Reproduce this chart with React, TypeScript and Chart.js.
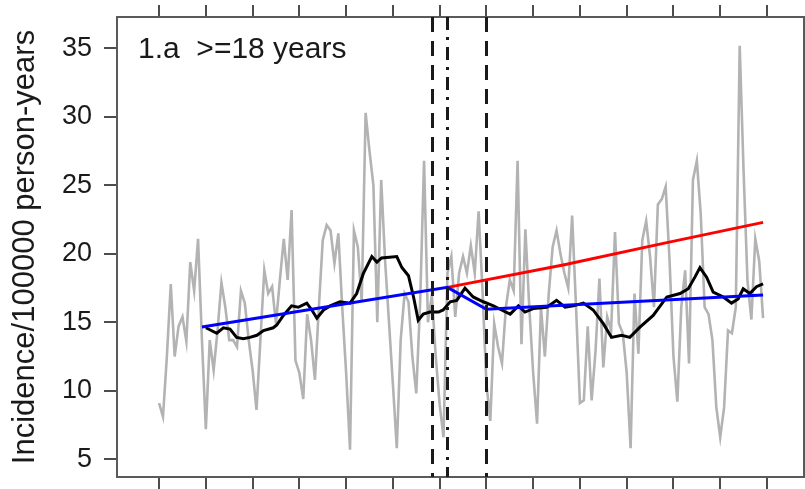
import React, { useEffect, useRef } from "react";
import { Chart, registerables } from "chart.js";

Chart.register(...registerables);

// Monthly incidence (gray), month index 0..155
const grayValues: number[] = [
  9.1, 8.1, 12.5, 17.8, 12.5, 14.7, 15.4, 13.6, 19.4, 17.3, 21.1, 13.7,
  7.2, 13.7, 11.5, 14.4, 17.9, 16.1, 13.7, 13.7, 13.2, 17.3, 16.4, 13.7,
  11.5, 8.6, 13.7, 18.8, 17.1, 17.6, 14.9, 18.1, 21.1, 18.1, 23.2, 12.2,
  11.3, 9.4, 15.6, 13.7, 10.8, 16.1, 21.0, 22.1, 21.7, 19.3, 21.5, 16.1,
  11.3, 5.7, 21.7, 20.5, 16.5, 30.3, 27.5, 25.0, 15.0, 25.4, 19.5, 15.0,
  10.5, 5.8, 13.7, 17.1, 16.5, 12.5, 9.8, 16.5, 26.8, 15.0, 17.0, 12.5,
  9.0, 6.6, 18.6, 19.8, 15.4, 18.6, 19.8, 18.6, 20.6, 18.6, 23.1, 17.3,
  10.5, 7.8, 14.9, 13.2, 12.0, 16.1, 18.1, 17.3, 26.8, 13.4, 21.8, 16.1,
  11.3, 7.6, 16.1, 12.5, 17.1, 20.5, 21.7, 20.0, 18.6, 17.5, 22.8, 16.1,
  9.1, 9.3, 14.7, 9.3, 12.9, 18.2, 11.7, 15.4, 14.4, 21.6, 14.9, 14.2,
  11.3, 5.8, 17.1, 12.7, 21.0, 22.4, 19.8, 16.1, 23.6, 24.0, 24.9, 19.5,
  12.5, 9.2, 16.1, 18.8, 12.0, 25.4, 26.8, 22.9, 16.1, 15.6, 13.7, 8.8,
  6.6, 8.8, 14.4, 14.2, 16.1, 35.2, 26.0, 18.0, 15.2, 21.1, 19.5, 15.3,
];

// Moving average (black)
const blackMonths: number[] = [
  12, 14.8, 16.5, 18.2, 19.9, 21.6, 23.3, 25.1, 26.8, 29.3, 30.2, 31.9, 34.0,
  35.7, 37.9, 39.2, 40.5, 42.2, 43.9, 46.4, 49.0, 50.7, 52.4, 54.6, 55.9, 57.1,
  61.0, 62.3, 64.0, 65.3, 66.5, 67.8, 69.5, 71.7, 72.9, 73.8, 74.7, 76.4, 78.5,
  80.6, 83.2, 85.8, 87.9, 90.1, 92.2, 93.9, 96.0, 99.5, 102.0, 104.2, 106.3,
  108.9, 111.4, 114.0, 116.1, 118.7, 120.8, 123.4, 126.8, 130.3, 133.7, 135.8,
  137.5, 138.8, 140.5, 142.2, 144.8, 146.9, 148.6, 149.9, 151.6, 153.3, 155.0,
];
const blackValues: number[] = [
  14.6, 14.2, 14.6, 14.5, 13.9, 13.8, 13.9, 14.05, 14.4, 14.6, 14.8, 15.5, 16.2,
  16.1, 16.4, 15.9, 15.3, 15.9, 16.2, 16.5, 16.4, 17.1, 18.55, 19.8, 19.4, 19.7,
  19.8, 19.0, 18.4, 16.85, 15.15, 15.6, 15.75, 15.75, 15.9, 16.2, 16.5, 16.6, 17.5,
  16.85, 16.5, 16.2, 15.9, 15.6, 16.2, 15.75, 16.0, 16.1, 16.6, 16.1, 16.2,
  16.4, 15.9, 14.9, 13.9, 14.05, 13.9, 14.65, 15.5, 16.85, 17.1, 17.45,
  18.3, 19.0, 18.3, 17.2, 16.85, 16.4, 16.7, 17.45, 17.1, 17.6, 17.8,
];

// Segmented trend (blue)
const blueMonths: number[] = [11, 74, 84, 155];
const blueValues: number[] = [14.65, 17.55, 15.95, 17.0];

// Counterfactual trend (red)
const redMonths: number[] = [74, 104, 130, 155];
const redValues: number[] = [17.55, 19.2, 20.8, 22.3];

// Vertical reference lines (months)
const dashedLineMonths: number[] = [70, 84];
const dotDashLineMonths: number[] = [74];

// Axis ticks
const xTickMonths: number[] = [0, 12, 24, 36, 48, 60, 72, 84, 96, 108, 120, 132, 144, 156];
const yTickValues: number[] = [5, 10, 15, 20, 25, 30, 35];

const panelLabel = "1.a  >=18 years";
const yTitle = "Incidence/100000 person-years";

const X_MIN = -10.8;
const X_MAX = 165.5;
const Y_MIN = 3.7;
const Y_MAX = 37.3;

const FONT = "'Liberation Sans', Arial, Helvetica, sans-serif";

const zeroPad = (s: any) => {
  s.paddingTop = 0;
  s.paddingBottom = 0;
  s.paddingLeft = 0;
  s.paddingRight = 0;
};

export default function App() {
  const ref = useRef<HTMLCanvasElement | null>(null);

  useEffect(() => {
    const canvas = ref.current;
    if (!canvas) return;

    const toXY = (xs: number[], ys: number[]) => xs.map((x, i) => ({ x, y: ys[i] }));

    const overlay = {
      id: "overlay",
      afterDatasetsDraw(chart: any) {
        const { ctx, chartArea, scales } = chart;
        const xs = scales.x;
        ctx.save();
        ctx.beginPath();
        ctx.rect(chartArea.left, chartArea.top, chartArea.right - chartArea.left, chartArea.bottom - chartArea.top);
        ctx.clip();
        ctx.strokeStyle = "#1a1a1a";
        ctx.lineWidth = 3;
        ctx.lineCap = "butt";
        const drawV = (m: number, dash: number[]) => {
          const px = Math.round(xs.getPixelForValue(m)) + 0.5;
          ctx.setLineDash(dash);
          ctx.beginPath();
          ctx.moveTo(px, chartArea.top);
          ctx.lineTo(px, chartArea.bottom);
          ctx.stroke();
        };
        dashedLineMonths.forEach((m) => drawV(m, [15, 9]));
        dotDashLineMonths.forEach((m) => drawV(m, [13, 7, 3, 7]));
        ctx.restore();

        ctx.save();
        ctx.setLineDash([]);
        ctx.fillStyle = "#1a1a1a";
        ctx.font = `30px ${FONT}`;
        ctx.textAlign = "left";
        ctx.textBaseline = "alphabetic";
        ctx.fillText(panelLabel, chartArea.left + 21, chartArea.top + 41);
        ctx.restore();
      },
    };

    const frameGrid = {
      drawOnChartArea: false,
      drawTicks: true,
      tickLength: 13,
      color: "#4d4d4d",
      lineWidth: 2,
    };
    const frameBorder = { display: true, color: "#5a5a5a", width: 2 };

    const chart = new Chart(canvas, {
      type: "line",
      data: {
        datasets: [
          {
            label: "blue",
            data: toXY(blueMonths, blueValues),
            borderColor: "#0000ff",
            borderWidth: 3,
            pointRadius: 0,
            tension: 0,
            order: 0,
          },
          {
            label: "red",
            data: toXY(redMonths, redValues),
            borderColor: "#ff0000",
            borderWidth: 3,
            pointRadius: 0,
            tension: 0,
            order: 1,
          },
          {
            label: "black",
            data: toXY(blackMonths, blackValues),
            borderColor: "#000000",
            borderWidth: 3,
            pointRadius: 0,
            tension: 0,
            order: 2,
          },
          {
            label: "gray",
            data: grayValues.map((v, i) => ({ x: i, y: v })),
            borderColor: "#b3b3b3",
            borderWidth: 2.6,
            pointRadius: 0,
            tension: 0,
            order: 3,
          },
        ],
      },
      options: {
        responsive: false,
        animation: false,
        devicePixelRatio: 1,
        layout: { padding: 0, autoPadding: false } as any,
        plugins: {
          legend: { display: false },
          tooltip: { enabled: false },
        },
        scales: {
          x: {
            type: "linear",
            position: "bottom",
            min: X_MIN,
            max: X_MAX,
            grid: { ...frameGrid, tickLength: 12 },
            border: frameBorder,
            ticks: { display: false },
            afterBuildTicks: (s: any) => {
              s.ticks = xTickMonths.map((v) => ({ value: v }));
            },
            afterFit: (s: any) => {
              s.height = 12;
              zeroPad(s);
            },
          },
          xTop: {
            type: "linear",
            position: "top",
            min: X_MIN,
            max: X_MAX,
            grid: { ...frameGrid, tickLength: 12 },
            border: frameBorder,
            ticks: { display: false },
            afterBuildTicks: (s: any) => {
              s.ticks = xTickMonths.map((v) => ({ value: v }));
            },
            afterFit: (s: any) => {
              s.height = 17;
              zeroPad(s);
            },
          },
          y: {
            type: "linear",
            position: "left",
            min: Y_MIN,
            max: Y_MAX,
            grid: frameGrid,
            border: frameBorder,
            afterBuildTicks: (s: any) => {
              s.ticks = yTickValues.map((v) => ({ value: v }));
            },
            ticks: {
              padding: 12,
              color: "#1a1a1a",
              font: { family: FONT, size: 27 },
              callback: (v: any) => String(v),
            },
            title: {
              display: true,
              text: yTitle,
              color: "#1a1a1a",
              font: { family: FONT, size: 31 },
              padding: { top: 7, bottom: 0 },
            },
            afterFit: (s: any) => {
              s.width = 117;
              zeroPad(s);
            },
          },
          yRight: {
            type: "linear",
            position: "right",
            min: Y_MIN,
            max: Y_MAX,
            grid: frameGrid,
            border: frameBorder,
            ticks: { display: false },
            afterBuildTicks: (s: any) => {
              s.ticks = yTickValues.map((v) => ({ value: v }));
            },
            afterFit: (s: any) => {
              s.width = 1;
              zeroPad(s);
            },
          },
        },
      },
      plugins: [overlay],
    } as any);

    return () => {
      chart.destroy();
    };
  }, []);

  return (
    <div style={{ position: "fixed", left: 0, top: 0, width: 805, height: 489, background: "#fff" }}>
      <canvas ref={ref} width={805} height={489} style={{ display: "block", width: 805, height: 489 }} />
    </div>
  );
}
